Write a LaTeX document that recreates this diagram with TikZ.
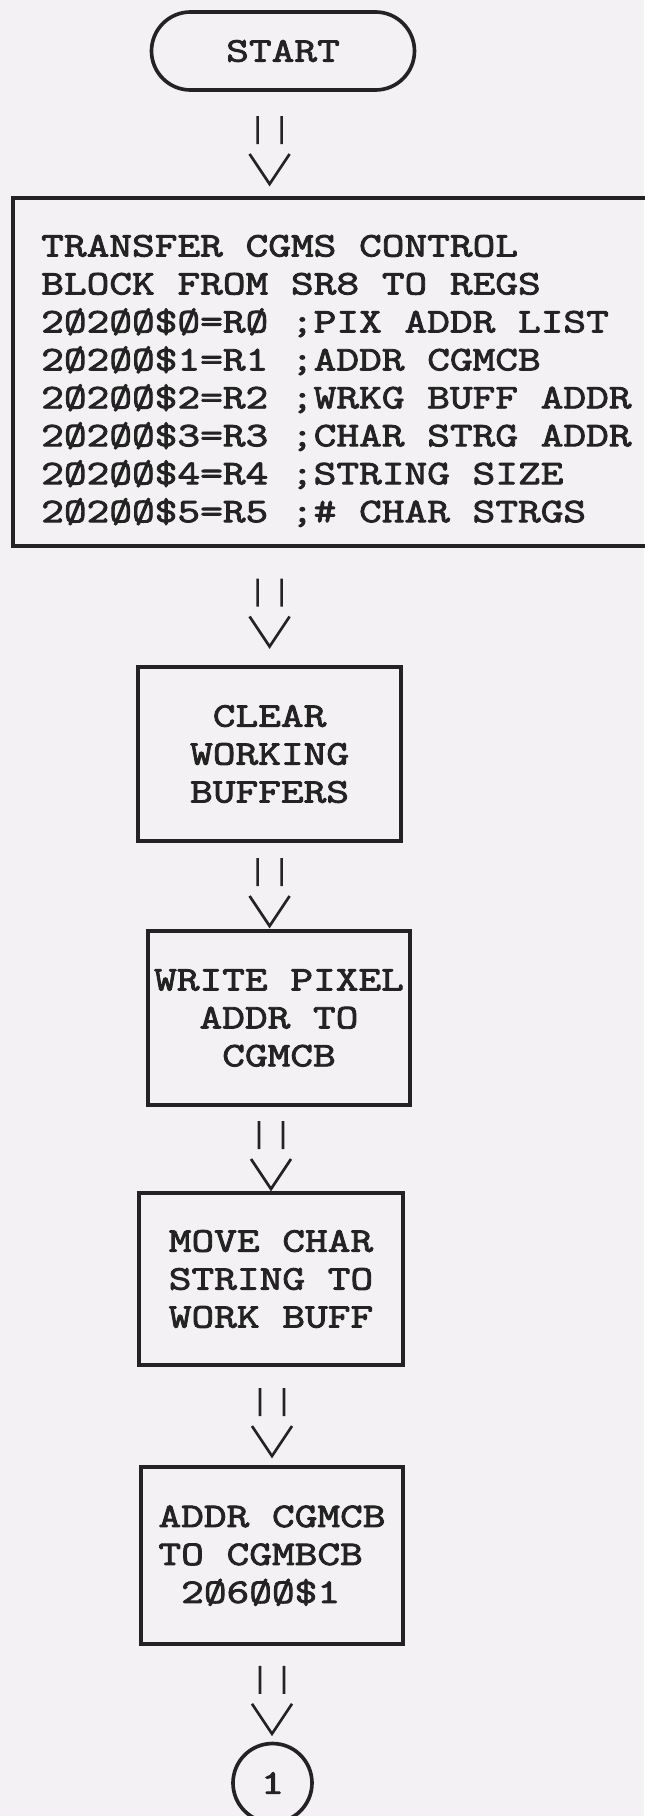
\documentclass[tikz,border=0pt]{standalone}
\usepackage{fontspec}
\newfontfamily\typewr[FakeStretch=1.28, FakeBold=2.6]{Latin Modern Mono}
\usetikzlibrary{calc}
\definecolor{paper}{RGB}{243,241,243}
\definecolor{ink}{RGB}{35,35,35}
\begin{document}
\begin{tikzpicture}[
    every node/.style={font=\typewr\fontsize{24.5}{27}\selectfont, text=ink},
    stepbox/.style={draw=ink, line width=2.6pt, minimum width=6.575cm, minimum height=4.35cm},
    typed/.style={draw=ink, line width=1.9pt, to path={
        let \p1=($(\tikztostart)!0.5!(\tikztotarget)$) in
        (\x1-0.3cm,\y1+0.7cm) -- (\x1-0.3cm,\y1)
        (\x1+0.3cm,\y1+0.7cm) -- (\x1+0.3cm,\y1)
        (\x1-0.5cm,\y1-0.25cm) -- (\x1,\y1-1cm) -- (\x1+0.5cm,\y1-0.25cm)}}]
    \useasboundingbox [fill=paper] (0,0) rectangle (16.1,-45.4);
    \node [draw=ink, line width=2.6pt, rounded corners=0.975cm, minimum width=6.575cm, minimum height=1.95cm] (start) at (7.075,-1.275) {START};
    % the strut on the first line lowers the register list a little
    \node [draw=ink, line width=2.6pt, minimum width=16.175cm, minimum height=8.7cm, align=left] (regs) at (8.41,-9.3) {\rule{0pt}{28pt}TRANSFER CGMS CONTROL\\
        BLOCK FROM SR8 TO REGS\\
        2Ø2ØØ\$Ø=RØ ;PIX ADDR LIST\\
        2Ø2ØØ\$1=R1 ;ADDR CGMCB\\
        2Ø2ØØ\$2=R2 ;WRKG BUFF ADDR\\
        2Ø2ØØ\$3=R3 ;CHAR STRG ADDR\\
        2Ø2ØØ\$4=R4 ;STRING SIZE\\
        2Ø2ØØ\$5=R5 ;\# CHAR STRGS};
    \node [stepbox, align=center] (clear) at (6.74,-18.85) {CLEAR\\WORKING\\BUFFERS};
    \node [stepbox, minimum width=6.55cm, align=center] (pixel) at (6.975,-25.45) {WRITE PIXEL\\ADDR TO\\CGMCB};
    \node [stepbox, minimum width=6.6cm, minimum height=4.3cm, align=left] (move) at (6.775,-31.975) {MOVE CHAR\\STRING TO\\WORK BUFF};
    \node [stepbox, minimum width=6.55cm, minimum height=4.425cm, align=left] (addr) at (6.8,-38.89) {ADDR CGMCB\\TO CGMBCB\\\phantom{0}2Ø6ØØ\$1};
    \node [draw=ink, line width=2.6pt, circle, minimum size=1.975cm, inner sep=0pt] (link) at (6.8125,-44.575) {1};
    % typed double-bar arrows between the steps
    \draw [typed] (start.south -| clear.north) to (regs.north -| clear.north);
    \draw [typed] (regs.south -| clear.north) to (clear.north);
    \draw [typed] (clear.south) to (pixel.north -| clear.south);
    \draw [typed] (pixel.south -| move.north) to (move.north);
    \draw [typed] (move.south -| addr.north) to (addr.north);
    \draw [typed] (addr.south) to (link.north -| addr.south);
\end{tikzpicture}
\end{document}
